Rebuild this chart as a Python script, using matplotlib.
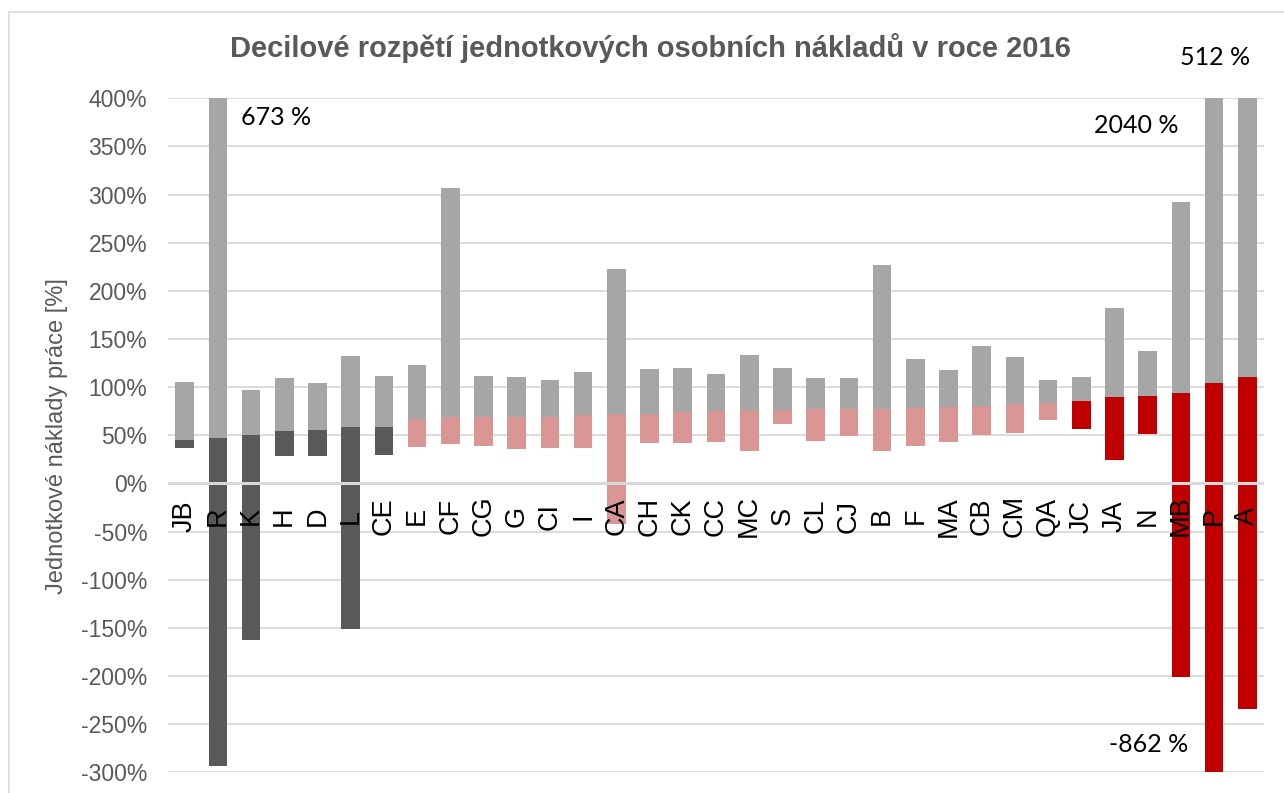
import matplotlib
matplotlib.use('Agg')
import matplotlib.pyplot as plt
from matplotlib.patches import Rectangle
import numpy as np

plt.rcParams['font.family'] = ['Liberation Sans', 'DejaVu Sans']

# categories and decile values (%)
cats = ['JB', 'R', 'K', 'H', 'D', 'L', 'CE', 'E', 'CF', 'CG', 'G', 'CI', 'I', 'CA',
        'CH', 'CK', 'CC', 'MC', 'S', 'CL', 'CJ', 'B', 'F', 'MA', 'CB', 'CM', 'QA',
        'JC', 'JA', 'N', 'MB', 'P', 'A']
d1 = [36.6, -293, -162.5, 28.3, 28.3, -151, 29.4, 37.7, 40.5, 38.4, 35.6, 36.3, 36.6, -42,
      42.5, 42.5, 43.2, 34.2, 61.5, 44.4, 49.4, 33.2, 38.4, 42.8, 49.8, 52.5, 66.3,
      56.3, 24.2, 51.1, -201, -862, -234]
med = [45.3, 46.7, 49.8, 54.6, 55.7, 58.4, 58.8, 67.1, 68.5, 68.8, 69.2, 69.2, 70.9, 71.9,
       72.6, 74.3, 75.7, 76.4, 76.4, 77.4, 77.7, 77.7, 78.4, 79.5, 80.9, 82.9, 83.6,
       86.0, 89.8, 91.2, 94.0, 104.7, 110.6]
d9 = [105, 673, 97.5, 109, 104.4, 132, 112, 123, 307, 111.3, 111, 107.2, 116.2, 222.4,
      118.9, 119.6, 113.7, 133, 119.9, 109.5, 109.5, 227.1, 129.2, 117.8, 143, 131.3, 107.8,
      110.2, 182.2, 137.9, 292.8, 2040, 512]
group = ['dark'] * 7 + ['pink'] * 20 + ['red'] * 6

notes = ['673 %', '2040 %', '512 %', '-862 %']
note_x = [1.70, 27.39, 29.98, 27.84]
note_y = [380, 372, 442, -271]

colors = {'dark': '#595959', 'pink': '#DA9694', 'red': '#C00000'}
grey = '#595959'

W, H = 1284, 793
fig = plt.figure(figsize=(W / 100, H / 100), dpi=100)
ax = fig.add_axes([168 / W, (H - 772.3) / H, (1264 - 168) / W, (772.3 - 98.3) / H])

x = np.arange(len(cats))
d1 = np.array(d1)
med = np.array(med)
d9 = np.array(d9)
low_c = [colors[g] for g in group]

ax.bar(x, med - d1, bottom=d1, width=0.56, color=low_c, zorder=2)
ax.bar(x, d9 - med, bottom=med, width=0.56, color='#A6A6A6', zorder=2)

ax.set_xlim(-0.5, len(cats) - 0.5)
ax.set_ylim(-300, 400)
yt = np.arange(-300, 401, 50)
ax.set_yticks(yt)
ax.set_yticklabels([f'{v}%' for v in yt], fontsize=16.5, color=grey)
ax.tick_params(axis='y', length=0, pad=15)
ax.set_xticks([])
for s in ax.spines.values():
    s.set_visible(False)
for v in yt:
    if v != 0:
        ax.axhline(v, color='#D9D9D9', lw=1.3, zorder=1)
ax.axhline(0, color='#D9D9D9', lw=2.2, zorder=3)

for i, c in enumerate(cats):
    ax.text(i, -34, c, rotation=90, ha='center', va='center', fontsize=19.5,
            color='black', zorder=4)

for t, nx, ny in zip(notes, note_x, note_y):
    ax.text(nx, ny, t, ha='left', va='center', fontsize=18, family=['Lato', 'DejaVu Sans'],
            color='black', clip_on=False, zorder=5)

fig.text(650 / W, 1 - 48 / H, 'Decilové rozpětí jednotkových osobních nákladů v roce 2016',
         ha='center', va='center', fontsize=21, fontweight='bold', color=grey)
fig.text(57 / W, 1 - 436 / H, 'Jednotkové náklady práce [%]', rotation=90,
         ha='center', va='center', fontsize=17, color=grey)

fig.patches.append(Rectangle((9 / W, -0.1), 1.2, 1.1 - 12 / H, transform=fig.transFigure,
                             fill=False, edgecolor='#D9D9D9', lw=1.2))

fig.savefig('out.png', dpi=100)
